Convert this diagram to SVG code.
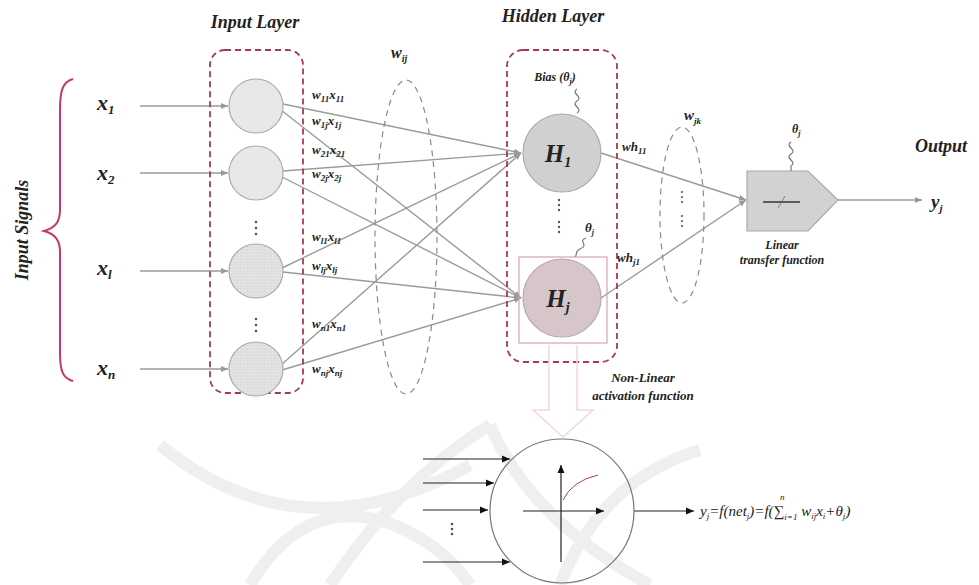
<svg xmlns="http://www.w3.org/2000/svg" width="979" height="585" viewBox="0 0 979 585">
<defs>
<style>
.t{font-family:"Liberation Serif","DejaVu Serif",serif;font-weight:bold;font-style:italic;fill:#222}
.lbl{font-size:18px}
.x{font-size:22px}
.w{font-size:13px}
.sm{font-size:12px}
.ln{stroke:#9a9a9a;stroke-width:1.4;fill:none}
.box{fill:none;stroke:#a83a4c;stroke-width:1.8;stroke-dasharray:6 4}
.ell{fill:none;stroke:#8a8a8a;stroke-width:1.2;stroke-dasharray:6 5}
.blk{stroke:#222;stroke-width:1.2;fill:none}
.sq{fill:none;stroke:#777;stroke-width:1.2}
.dot{fill:#555}
.wm{fill:none;stroke:#efefef;stroke-width:12}
.f{font-family:"Liberation Serif","DejaVu Serif",serif;font-style:italic;fill:#222}
</style>
<marker id="ag" markerWidth="8" markerHeight="8" refX="7" refY="4" orient="auto" markerUnits="userSpaceOnUse"><path d="M0,1 L7,4 L0,7 z" fill="#999"/></marker>
<marker id="ab" markerWidth="9" markerHeight="8" refX="8" refY="4" orient="auto" markerUnits="userSpaceOnUse"><path d="M0,0.5 L8,4 L0,7.5 z" fill="#111"/></marker>
<pattern id="hatch" width="3" height="3" patternUnits="userSpaceOnUse"><rect width="3" height="3" fill="#e4e4e4"/><circle cx="1" cy="1" r="0.6" fill="#c2c2c2"/></pattern>
</defs>

<g id="watermark">
<path class="wm" d="M160,445 Q300,560 470,465"/>
<path class="wm" d="M330,585 Q400,480 490,425"/>
<path class="wm" d="M490,425 Q530,520 650,585"/>
<path class="wm" d="M250,585 Q300,500 380,520 Q440,540 470,585"/>
<path class="wm" d="M560,585 Q600,480 700,450"/>
</g>

<g id="titles">
<text class="t lbl" x="255" y="28" text-anchor="middle">Input Layer</text>
<text class="t lbl" x="553" y="22" text-anchor="middle">Hidden Layer</text>
<text class="t lbl" x="941" y="152" text-anchor="middle">Output</text>
<text class="t lbl" transform="translate(28,230) rotate(-90)" text-anchor="middle">Input Signals</text>
</g>

<g id="brace">
<path d="M73,79 C62,82 60,92 60,110 L60,210 C60,222 55,228 44,231 C55,234 60,240 60,252 L60,352 C60,370 62,378 73,381" fill="none" stroke="#c8356a" stroke-width="2"/>
</g>

<g id="signals">
<text class="t x" x="97" y="110">x<tspan font-size="13" dy="4">1</tspan></text>
<text class="t x" x="97" y="180">x<tspan font-size="13" dy="4">2</tspan></text>
<text class="t x" x="97" y="275">x<tspan font-size="13" dy="4">l</tspan></text>
<text class="t x" x="97" y="375">x<tspan font-size="13" dy="4">n</tspan></text>
</g>

<g id="connectors">
<line class="ln" x1="140" y1="106" x2="228" y2="106" marker-end="url(#ag)"/>
<line class="ln" x1="140" y1="173" x2="228" y2="173" marker-end="url(#ag)"/>
<line class="ln" x1="140" y1="271" x2="228" y2="271" marker-end="url(#ag)"/>
<line class="ln" x1="140" y1="369" x2="228" y2="369" marker-end="url(#ag)"/>
<line class="ln" x1="283" y1="104" x2="521" y2="153" marker-end="url(#ag)"/>
<line class="ln" x1="281" y1="110" x2="521" y2="298" marker-end="url(#ag)"/>
<line class="ln" x1="283" y1="171" x2="521" y2="153" marker-end="url(#ag)"/>
<line class="ln" x1="282" y1="177" x2="521" y2="298" marker-end="url(#ag)"/>
<line class="ln" x1="282" y1="268" x2="521" y2="153" marker-end="url(#ag)"/>
<line class="ln" x1="283" y1="272" x2="521" y2="298" marker-end="url(#ag)"/>
<line class="ln" x1="281" y1="365" x2="521" y2="153" marker-end="url(#ag)"/>
<line class="ln" x1="282" y1="370" x2="521" y2="298" marker-end="url(#ag)"/>
<line class="ln" x1="601" y1="153" x2="746" y2="200" marker-end="url(#ag)"/>
<line class="ln" x1="601" y1="298" x2="746" y2="200" marker-end="url(#ag)"/>
<line class="ln" x1="838" y1="200" x2="922" y2="200" marker-end="url(#ag)"/>
<line class="blk" x1="423" y1="459" x2="510" y2="459" marker-end="url(#ab)"/>
<line class="blk" x1="423" y1="483" x2="494" y2="483" marker-end="url(#ab)"/>
<line class="blk" x1="423" y1="510" x2="488" y2="510" marker-end="url(#ab)"/>
<line class="blk" x1="423" y1="562" x2="510" y2="562" marker-end="url(#ab)"/>
<line class="blk" x1="634" y1="511" x2="694" y2="511" marker-end="url(#ab)"/>
<circle class="dot" cx="452" cy="524" r="1.3"/><circle class="dot" cx="452" cy="529" r="1.3"/><circle class="dot" cx="452" cy="534" r="1.3"/>
</g>

<g id="input-layer">
<rect class="box" x="210" y="50" width="93" height="343" rx="15"/>
<circle cx="256" cy="106" r="27" fill="#e8e8e8" stroke="#aaa" stroke-width="1.2"/>
<circle cx="256" cy="173" r="27" fill="#e8e8e8" stroke="#aaa" stroke-width="1.2"/>
<circle cx="256" cy="271" r="27" fill="url(#hatch)" stroke="#aaa" stroke-width="1.2"/>
<circle cx="256" cy="369" r="27" fill="url(#hatch)" stroke="#aaa" stroke-width="1.2"/>
<circle class="dot" cx="256" cy="222" r="1.3"/><circle class="dot" cx="256" cy="228" r="1.3"/><circle class="dot" cx="256" cy="234" r="1.3"/>
<circle class="dot" cx="256" cy="319" r="1.3"/><circle class="dot" cx="256" cy="325" r="1.3"/><circle class="dot" cx="256" cy="331" r="1.3"/>
</g>

<g id="weights-ij">
<ellipse class="ell" cx="406" cy="237" rx="31" ry="157"/>
<text class="t" font-size="16" x="391" y="58">w<tspan font-size="10" dy="4">ij</tspan></text>
<text class="t w" x="312" y="99">w<tspan font-size="9" dy="3">11</tspan><tspan dy="-3">x</tspan><tspan font-size="9" dy="3">11</tspan></text>
<text class="t w" x="312" y="125">w<tspan font-size="9" dy="3">1j</tspan><tspan dy="-3">x</tspan><tspan font-size="9" dy="3">1j</tspan></text>
<text class="t w" x="312" y="154">w<tspan font-size="9" dy="3">21</tspan><tspan dy="-3">x</tspan><tspan font-size="9" dy="3">21</tspan></text>
<text class="t w" x="312" y="178">w<tspan font-size="9" dy="3">2j</tspan><tspan dy="-3">x</tspan><tspan font-size="9" dy="3">2j</tspan></text>
<text class="t w" x="312" y="241">w<tspan font-size="9" dy="3">l1</tspan><tspan dy="-3">x</tspan><tspan font-size="9" dy="3">l1</tspan></text>
<text class="t w" x="312" y="270">w<tspan font-size="9" dy="3">lj</tspan><tspan dy="-3">x</tspan><tspan font-size="9" dy="3">lj</tspan></text>
<text class="t w" x="312" y="328">w<tspan font-size="9" dy="3">n1</tspan><tspan dy="-3">x</tspan><tspan font-size="9" dy="3">n1</tspan></text>
<text class="t w" x="312" y="373">w<tspan font-size="9" dy="3">nj</tspan><tspan dy="-3">x</tspan><tspan font-size="9" dy="3">nj</tspan></text>
</g>

<g id="hidden-layer">
<rect class="box" x="507" y="50" width="110" height="312" rx="16"/>
<text class="t sm" x="555" y="81" text-anchor="middle">Bias (θ<tspan font-size="8" dy="3">j</tspan><tspan dy="-3">)</tspan></text>
<path class="sq" d="M577,89 c-7,4 7,8 0,12 c-7,4 7,8 0,12"/>
<circle cx="562" cy="153" r="39" fill="#d0d0d0" stroke="#aaa" stroke-width="1.2"/>
<text class="t" font-size="25" x="558" y="162" text-anchor="middle">H<tspan font-size="14" dy="5">1</tspan></text>
<circle class="dot" cx="559" cy="200" r="1.2"/><circle class="dot" cx="559" cy="205" r="1.2"/><circle class="dot" cx="559" cy="210" r="1.2"/>
<circle class="dot" cx="559" cy="222" r="1.2"/><circle class="dot" cx="559" cy="227" r="1.2"/><circle class="dot" cx="559" cy="232" r="1.2"/>
<text class="t" font-size="13" x="585" y="232">θ<tspan font-size="8" dy="3">j</tspan></text>
<path class="sq" d="M586,238 c-9,3 4,7 -6,11 c-6,3 -2,5 -5,8"/>
<rect x="519" y="257" width="88" height="86" fill="none" stroke="#dba2b2" stroke-width="1.2"/>
<circle cx="562" cy="298" r="39" fill="#d6c6ca" stroke="#b9a9ad" stroke-width="1.2"/>
<text class="t" font-size="25" x="558" y="307" text-anchor="middle">H<tspan font-size="14" dy="5">j</tspan></text>
<path d="M549,345 L549,410 L533,410 L563,437 L593,410 L577,410 L577,345" fill="none" stroke="#f4d6dd" stroke-width="1.5"/>
<text class="t w" x="643" y="382" text-anchor="middle">Non-Linear</text>
<text class="t w" x="643" y="400" text-anchor="middle">activation function</text>
</g>

<g id="weights-jk">
<ellipse class="ell" cx="682" cy="215" rx="22" ry="88"/>
<text class="t" font-size="15" x="684" y="120">w<tspan font-size="9" dy="4">jk</tspan></text>
<circle class="dot" cx="682" cy="192" r="1.1"/><circle class="dot" cx="682" cy="197" r="1.1"/><circle class="dot" cx="682" cy="202" r="1.1"/>
<circle class="dot" cx="682" cy="216" r="1.1"/><circle class="dot" cx="682" cy="221" r="1.1"/><circle class="dot" cx="682" cy="226" r="1.1"/>
<text class="t w" x="622" y="151">wh<tspan font-size="9" dy="3">11</tspan></text>
<text class="t w" x="617" y="262">wh<tspan font-size="9" dy="3">j1</tspan></text>
</g>

<g id="output-node">
<polygon points="747,171 808,171 838,200 808,231 747,231" fill="#d2d2d2" stroke="#aaa" stroke-width="1.2"/>
<line x1="763" y1="202" x2="800" y2="202" stroke="#333" stroke-width="1.5"/>
<line x1="778" y1="208" x2="785" y2="196" stroke="#666" stroke-width="0.8"/>
<text class="t" font-size="12" x="792" y="133">θ<tspan font-size="8" dy="3">j</tspan></text>
<path class="sq" d="M791,142 c-7,4 7,8 0,12 c-7,4 7,8 0,12 L791,171"/>
<text class="t sm" x="782" y="249" text-anchor="middle">Linear</text>
<text class="t sm" x="782" y="264" text-anchor="middle">transfer function</text>
<text class="t" font-size="19" x="931" y="208">y<tspan font-size="11" dy="4">j</tspan></text>
</g>

<g id="activation">
<circle cx="562" cy="511" r="72" fill="none" stroke="#777" stroke-width="1.2"/>
<line class="blk" x1="523" y1="511" x2="604" y2="511" marker-end="url(#ab)"/>
<line class="blk" x1="561" y1="562" x2="561" y2="465" marker-end="url(#ab)"/>
<path d="M563,500 Q572,481 598,475" fill="none" stroke="#a04050" stroke-width="1"/>
<text class="f" font-size="15" x="700" y="516">y<tspan font-size="9" dy="3">j</tspan><tspan dy="-3">=f(net</tspan><tspan font-size="9" dy="3">j</tspan><tspan dy="-3">)=f(∑</tspan><tspan font-size="9" dy="4">i=1</tspan><tspan dy="-4"> w</tspan><tspan font-size="9" dy="3">ij</tspan><tspan dy="-3">x</tspan><tspan font-size="9" dy="3">i</tspan><tspan dy="-3">+θ</tspan><tspan font-size="9" dy="3">j</tspan><tspan dy="-3">)</tspan></text>
<text class="f" font-size="9" x="780" y="500">n</text>
</g>
</svg>
